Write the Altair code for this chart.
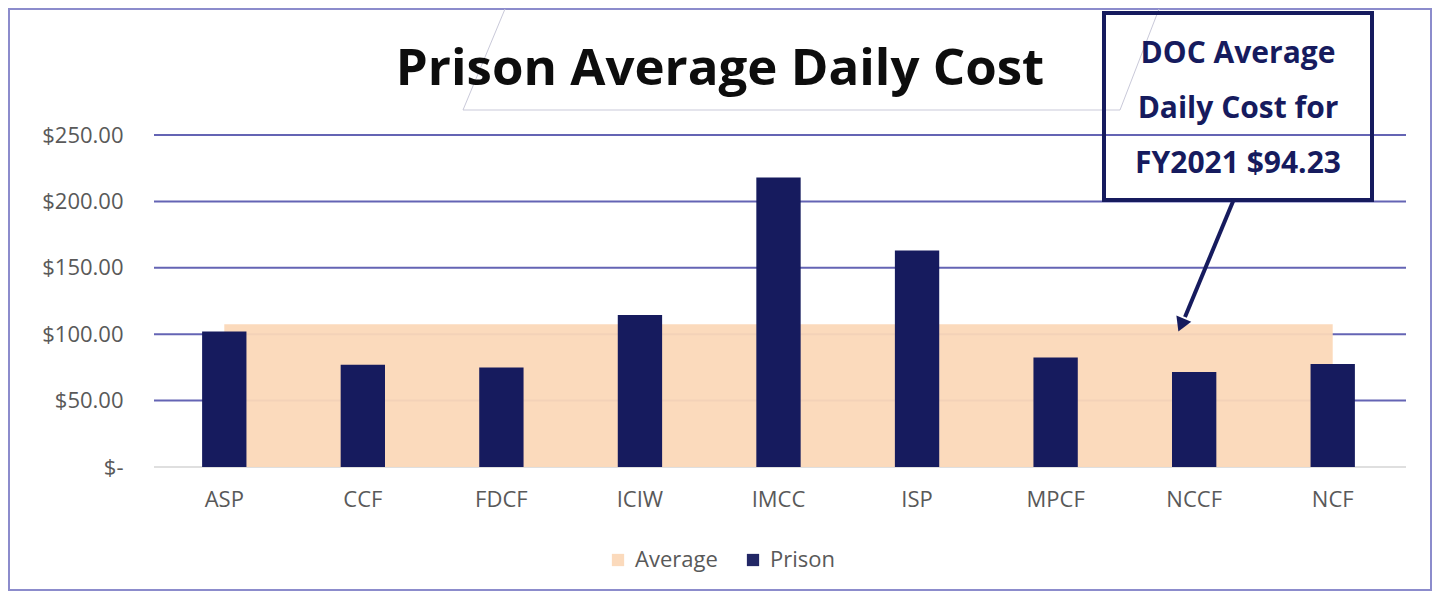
import altair as alt
import pandas as pd

# ---- data ----
categories = ["ASP", "CCF", "FDCF", "ICIW", "IMCC", "ISP", "MPCF", "NCCF", "NCF"]
prison_cost = [102.0, 77.0, 75.0, 114.5, 218.0, 163.0, 82.5, 71.5, 77.5]
average_band = [107.5] * 9
grid_ticks = [50, 100, 150, 200, 250]
title_text = "Prison Average Daily Cost"
note_lines = ["DOC Average", "Daily Cost for", "FY2021 $94.23"]

NAVY = "#161b5e"
PEACH = "#fbd8b8"
GRID = "#6464b4"
LABEL = "#595959"
FONT = "Open Sans"

W, H = 1247, 332

df = pd.DataFrame({"cat": categories, "cost": prison_cost, "avg": average_band})
grid_df = pd.DataFrame({"t": grid_ticks})
zero_df = pd.DataFrame({"t": [0]})
one = alt.Data(values=[{"a": 1}])

xscale = alt.Scale(type="band", domain=categories, paddingInner=0.68, paddingOuter=0.34)
yscale = alt.Scale(domain=[0, 250], nice=False, zero=True)
cscale = alt.Scale(domain=["Average", "Prison"], range=[PEACH, NAVY])

xaxis = alt.Axis(title=None, domain=False, ticks=False, grid=False, labelAngle=0,
                 labelFontSize=22, labelFont=FONT, labelColor=LABEL, labelPadding=22)
yaxis = alt.Axis(title=None, domain=False, ticks=False, grid=False,
                 values=[0, 50, 100, 150, 200, 250],
                 labelExpr="datum.value == 0 ? '$-' : '$' + format(datum.value, '.2f')",
                 labelFontSize=22, labelFont=FONT, labelColor=LABEL, labelPadding=32)

grid = alt.Chart(grid_df).mark_rule(color=GRID, strokeWidth=2).encode(
    y=alt.Y("t:Q", scale=yscale, axis=yaxis, title=None),
    x=alt.value(-1), x2=alt.value(W + 4),
)
zero = alt.Chart(zero_df).mark_rule(color="#d4d4d4", strokeWidth=1.5).encode(
    y=alt.Y("t:Q", scale=yscale, axis=yaxis, title=None),
    x=alt.value(-1), x2=alt.value(W + 4),
)

area = alt.Chart(df).mark_area(opacity=0.95).transform_calculate(series="'Average'").encode(
    x=alt.X("cat:N", scale=xscale, sort=categories, bandPosition=0.5, axis=xaxis, title=None),
    y=alt.Y("avg:Q", scale=yscale, axis=yaxis, title=None),
    color=alt.Color("series:N", scale=cscale,
                    legend=alt.Legend(title=None, orient="none", legendX=452, legendY=414,
                                      direction="horizontal", symbolType="square",
                                      symbolSize=150, symbolStrokeWidth=0,
                                      labelFontSize=22, labelFont=FONT, labelColor=LABEL,
                                      columnPadding=24, labelOffset=6)),
)

bars = alt.Chart(df).mark_bar().transform_calculate(series="'Prison'").encode(
    x=alt.X("cat:N", scale=xscale, sort=categories, axis=xaxis, title=None),
    y=alt.Y("cost:Q", scale=yscale, axis=yaxis, title=None),
    color=alt.Color("series:N", scale=cscale, legend=None),
)

# ---- decorations / annotation ----
frame = alt.Chart(one).mark_rect(fill=None, stroke="#8c8ccc", strokeWidth=2).encode(
    x=alt.value(-146), x2=alt.value(1276), y=alt.value(-126), y2=alt.value(455)
)
deco1 = alt.Chart(one).mark_rule(color="#c9c9d9", strokeWidth=1).encode(
    x=alt.value(350), y=alt.value(-126), x2=alt.value(308), y2=alt.value(-25)
)
deco2 = alt.Chart(one).mark_rule(color="#c9c9d9", strokeWidth=1).encode(
    x=alt.value(308), y=alt.value(-25), x2=alt.value(965), y2=alt.value(-25)
)
deco3 = alt.Chart(one).mark_rule(color="#c9c9d9", strokeWidth=1).encode(
    x=alt.value(1004), y=alt.value(-126), x2=alt.value(965), y2=alt.value(-25)
)

title = alt.Chart(one).mark_text(fontSize=51, fontWeight="bold", font=FONT, color="#0d0d0d",
                                 align="center", baseline="alphabetic").encode(
    x=alt.value(565), y=alt.value(-50), text=alt.value(title_text)
)

box = alt.Chart(one).mark_rect(fill=None, stroke=NAVY, strokeWidth=4).encode(
    x=alt.value(949), x2=alt.value(1217), y=alt.value(-122), y2=alt.value(65)
)
note_layers = []
for i, line in enumerate(note_lines):
    note_layers.append(
        alt.Chart(one).mark_text(fontSize=30, fontWeight="bold", font=FONT, color=NAVY,
                                 align="center", baseline="alphabetic").encode(
            x=alt.value(1083), y=alt.value(-72 + 55 * i), text=alt.value(line)
        )
    )
arrow_line = alt.Chart(one).mark_rule(color=NAVY, strokeWidth=4).encode(
    x=alt.value(1079), y=alt.value(64), x2=alt.value(1030), y2=alt.value(182)
)
arrow_head = alt.Chart(one).mark_point(shape="triangle", filled=True, color=NAVY,
                                       size=260, angle=203, opacity=1).encode(
    x=alt.value(1027), y=alt.value(188)
)

chart = alt.layer(
    grid, zero, area, bars, frame, deco1, deco2, deco3, title, box, *note_layers,
    arrow_line, arrow_head
).properties(
    width=W, height=H,
    autosize=alt.AutoSizeParams(type="none"),
    padding={"left": 147, "top": 127, "right": 30, "bottom": 124},
    background="white",
).configure_view(stroke=None)

chart.save("out.html", embed_options={"renderer": "svg", "actions": False})
